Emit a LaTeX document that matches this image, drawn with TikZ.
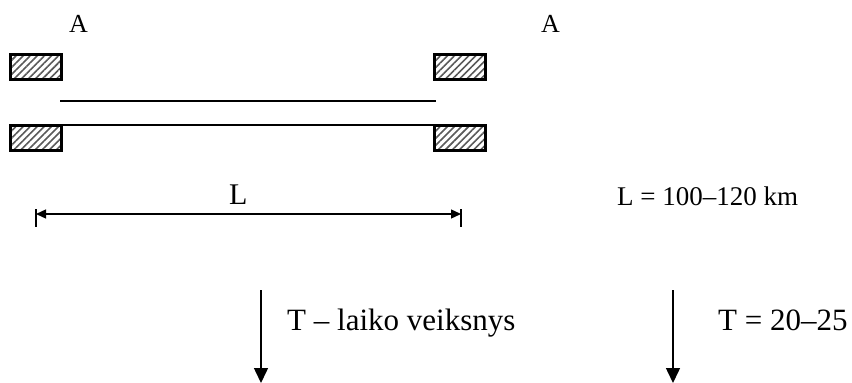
\documentclass[tikz,border=0pt]{standalone}
\usepackage{fontspec}
\setmainfont{Liberation Serif}
\usetikzlibrary{arrows.meta,patterns.meta}
\begin{document}
\begin{tikzpicture}[x=1pt,y=-1pt,
  support/.style={draw=black,line width=3pt,minimum width=51pt,minimum height=25pt,
    inner sep=0pt,outer sep=0pt,
    pattern={Lines[angle=45,distance=5pt,line width=1.6pt]},pattern color=black!65},
  beam/.style={line width=1.6pt},
  lbl/.style={inner sep=0pt,anchor=base west,font=\fontsize{26}{30}\selectfont},
  big/.style={font=\fontsize{31}{36}\selectfont},
  dim/.style={line width=1.3pt,{Triangle[length=10pt,width=9pt]}-{Triangle[length=10pt,width=9pt]}},
  tick/.style={line width=1.3pt},
  flow/.style={line width=1.5pt,-{Triangle[length=15pt,width=14pt]}}]
\useasboundingbox (0,0) rectangle (852,383);
% labels A
\node[lbl] (A1) at (69,32) {A};
\node[lbl] (A2) at (541,32) {A};
% supports
\node[support] (tl) at (36,67) {};
\node[support] (bl) at (36,137.5) {};
\node[support] (tr) at (460,67) {};
\node[support] (br) at (460,137.5) {};
% beams
\coordinate (u1) at (60,101);
\coordinate (u2) at (436,101);
\draw[beam] (u1) -- (u2);
\draw[beam] (bl.north east) -- (br.north west);
% dimension
\coordinate (d1) at (36,214);
\coordinate (d2) at (461,214);
\coordinate (d1a) at (36,209);
\coordinate (d1b) at (36,227);
\coordinate (d2a) at (461,209);
\coordinate (d2b) at (461,227);
\draw[tick] (d1a) -- (d1b);
\draw[tick] (d2a) -- (d2b);
\draw[dim] (d1) -- (d2);
\node[lbl,font=\fontsize{30}{34}\selectfont] (Llab) at (229,204) {L};
\node[lbl,font=\fontsize{27}{31}\selectfont] (Lval) at (617,205) {L = 100–120 km};
% time arrows
\coordinate (t1s) at (261,290);
\coordinate (t1e) at (261,383);
\coordinate (t2s) at (673,290);
\coordinate (t2e) at (673,383);
\draw[flow] (t1s) -- (t1e);
\draw[flow] (t2s) -- (t2e);
\node[lbl,big] (T1) at (287,330) {T – laiko veiksnys};
\node[lbl,big] (T2) at (718,330) {T = 20–25};
\end{tikzpicture}
\end{document}
